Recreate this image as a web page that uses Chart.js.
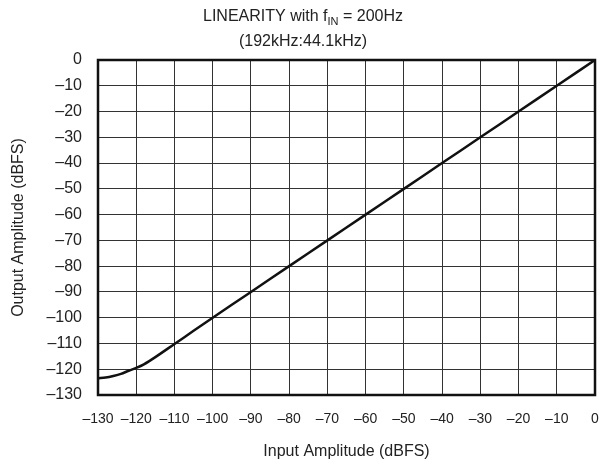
<!DOCTYPE html>
<html>
<head>
  <title>Linearity</title>
  <script src="https://cdn.jsdelivr.net/npm/chart.js@4.4.0/dist/chart.umd.min.js"></script>
  <style>
    html, body { margin: 0; padding: 0; background: #fff; }
    #wrap { width: 600px; height: 468px; }
  </style>
</head>
<body>
  <div id="wrap"><canvas id="linearityChart" width="600" height="468"></canvas></div>

  <script>
    // values
    const inputDbfs  = [-130, -128, -126, -124, -122, -120, -118, -115, -110, -105, -100, -90, -80, -70, -60, -50, -40, -30, -20, -10, 0];
    const outputDbfs = [-123.5, -123.2, -122.6, -121.8, -120.6, -119.5, -118.1, -115.3, -110.2, -105.1, -100, -90, -80, -70, -60, -50, -40, -30, -20, -10, 0];
    const xTicks = [-130, -120, -110, -100, -90, -80, -70, -60, -50, -40, -30, -20, -10, 0];
    const yTicks = [0, -10, -20, -30, -40, -50, -60, -70, -80, -90, -100, -110, -120, -130];

    const fontFamily = '"Liberation Sans", Arial, Helvetica, sans-serif';
    const fmt = v => (v < 0 ? '\u2013' + Math.abs(v) : String(v));

    // title with subscript "IN"
    const titlePlugin = {
      id: 'subTitle',
      afterDraw(chart) {
        const ctx = chart.ctx;
        ctx.save();
        ctx.fillStyle = '#222';
        ctx.textBaseline = 'alphabetic';
        const cx = 303;
        const big = '16px ' + fontFamily;
        const small = '11px ' + fontFamily;
        const parts = [['LINEARITY with f', big, 0], ['IN', small, 4], [' = 200Hz', big, 0]];
        let total = 0;
        parts.forEach(p => { ctx.font = p[1]; total += ctx.measureText(p[0]).width; });
        let x = cx - total / 2;
        ctx.textAlign = 'left';
        parts.forEach(p => {
          ctx.font = p[1];
          ctx.fillText(p[0], x, 21 + p[2]);
          x += ctx.measureText(p[0]).width;
        });
        ctx.font = big;
        ctx.textAlign = 'center';
        ctx.fillText('(192kHz:44.1kHz)', cx, 46);
        ctx.restore();
      }
    };

    // thick frame round the plot area
    const framePlugin = {
      id: 'frame',
      afterDatasetsDraw(chart) {
        const { ctx, chartArea: a } = chart;
        ctx.save();
        ctx.strokeStyle = '#111';
        ctx.lineWidth = 2.5;
        ctx.strokeRect(a.left, a.top, a.right - a.left, a.bottom - a.top);
        ctx.restore();
      }
    };

    const ctx = document.getElementById('linearityChart').getContext('2d');
    new Chart(ctx, {
      type: 'scatter',
      data: {
        datasets: [{
          data: inputDbfs.map((x, i) => ({ x: x, y: outputDbfs[i] })),
          showLine: true,
          borderColor: '#111',
          borderWidth: 2.5,
          pointRadius: 0,
          tension: 0.3
        }]
      },
      options: {
        responsive: false,
        animation: false,
        layout: { padding: { top: 60, right: 5, left: 0, bottom: 0 } },
        plugins: { legend: { display: false }, tooltip: { enabled: false } },
        scales: {
          x: {
            type: 'linear',
            min: -130, max: 0,
            afterBuildTicks: s => { s.ticks = xTicks.map(v => ({ value: v })); },
            afterFit: s => { s.height = 73; s.paddingLeft = 0; s.paddingRight = 0; },
            ticks: { callback: fmt, color: '#222', font: { family: fontFamily, size: 14 }, padding: 16, maxRotation: 0, autoSkip: false },
            grid: { color: '#333', lineWidth: 1, drawTicks: false },
            border: { display: false },
            title: { display: true, text: 'Input Amplitude (dBFS)', color: '#222', font: { family: fontFamily, size: 16 }, padding: { bottom: 7 } }
          },
          y: {
            type: 'linear',
            min: -130, max: 0,
            afterBuildTicks: s => { s.ticks = yTicks.map(v => ({ value: v })); },
            afterFit: s => { s.width = 98; s.paddingTop = 0; s.paddingBottom = 0; },
            ticks: { callback: fmt, color: '#222', font: { family: fontFamily, size: 16 }, padding: 16, autoSkip: false },
            grid: { color: '#333', lineWidth: 1, drawTicks: false },
            border: { display: false },
            title: { display: true, text: 'Output Amplitude (dBFS)', color: '#222', font: { family: fontFamily, size: 16 }, padding: { top: 9 } }
          }
        }
      },
      plugins: [titlePlugin, framePlugin]
    });
  </script>
</body>
</html>
